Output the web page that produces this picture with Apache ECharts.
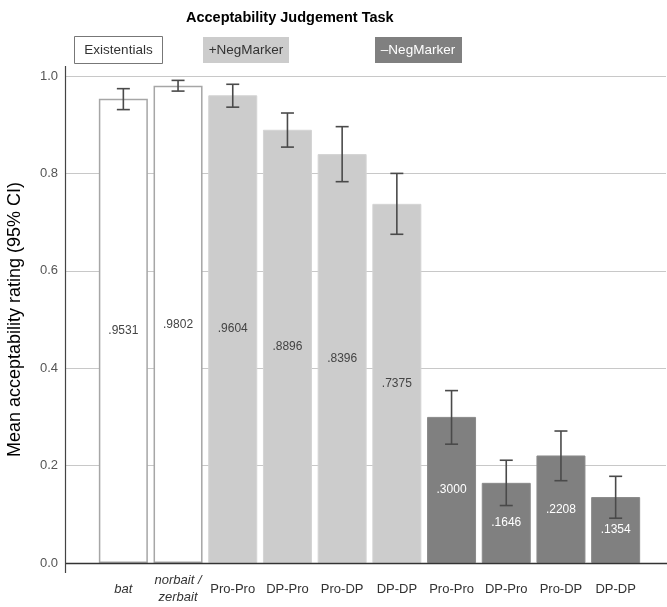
<!DOCTYPE html>
<html><head><meta charset="utf-8">
<script src="https://cdn.jsdelivr.net/npm/echarts@6/dist/echarts.min.js"></script>
<style>html,body{margin:0;padding:0;background:#fff}#c{width:667px;height:607px}</style>
</head><body><div id="c"></div>
<script>
const categories = ['bat', 'norbait /\nzerbait', 'Pro-Pro', 'DP-Pro', 'Pro-DP', 'DP-DP', 'Pro-Pro', 'DP-Pro', 'Pro-DP', 'DP-DP'];
const groups = ['Existentials', 'Existentials', '+NegMarker', '+NegMarker', '+NegMarker', '+NegMarker', '–NegMarker', '–NegMarker', '–NegMarker', '–NegMarker'];
const means = [0.9531, 0.9802, 0.9604, 0.8896, 0.8396, 0.7375, 0.3000, 0.1646, 0.2208, 0.1354];
const ciLow = [0.931, 0.969, 0.936, 0.854, 0.783, 0.675, 0.244, 0.118, 0.169, 0.092];
const ciHigh = [0.974, 0.991, 0.983, 0.924, 0.896, 0.800, 0.354, 0.211, 0.271, 0.178];
const yTicks = [0, 0.2, 0.4, 0.6, 0.8, 1.0];

const groupStyle = {
  'Existentials': {color: '#ffffff', border: '#a6a6a6', borderWidth: 1.5, label: '#444'},
  '+NegMarker': {color: '#cccccc', border: '#d4d4d4', borderWidth: 1, label: '#444'},
  '–NegMarker': {color: '#808080', border: '#8a8a8a', borderWidth: 1, label: '#fff'}
};

const barData = means.map((v, i) => {
  const s = groupStyle[groups[i]];
  return {
    value: v,
    itemStyle: {color: s.color, borderColor: s.border, borderWidth: s.borderWidth},
    label: {color: s.label}
  };
});
const errData = means.map((v, i) => [i, ciLow[i], ciHigh[i]]);

const chart = echarts.init(document.getElementById('c'));
const font = 'Liberation Sans, Arial, sans-serif';
chart.setOption({
  animation: false,
  textStyle: {fontFamily: font},
  title: {text: 'Acceptability Judgement Task', left: 181, top: 5,
    textStyle: {fontSize: 14.5, fontWeight: 'bold', color: '#000', fontFamily: font}},
  grid: [
    {left: 66, right: 1, top: 76, bottom: 44, outerBoundsMode: 'none'},
    {left: 96, right: 24, top: 76, bottom: 44, outerBoundsMode: 'none'}
  ],
  xAxis: [
    {type: 'value', gridIndex: 0, min: 0, max: 1, show: true,
      axisLine: {show: false}, axisTick: {show: false}, axisLabel: {show: false}, splitLine: {show: false}},
    {type: 'category', gridIndex: 1, data: categories,
      axisLine: {show: false}, axisTick: {show: false},
      axisLabel: {interval: 0, margin: 26, fontSize: 13, color: '#333', lineHeight: 17, verticalAlign: 'middle',
        formatter: (v, i) => (i < 2 ? '{it|' + v.split('\n').join('}\n{it|') + '}' : v),
        rich: {it: {fontStyle: 'italic', fontSize: 13, color: '#333', lineHeight: 17}}}}
  ],
  yAxis: [
    {type: 'value', gridIndex: 0, min: 0, max: 1, interval: 0.2,
      name: 'Mean acceptability rating (95% CI)', nameLocation: 'middle', nameGap: 42,
      nameTextStyle: {fontSize: 18, color: '#000'},
      axisLine: {show: false},
      axisTick: {show: false},
      axisLabel: {fontSize: 13, color: '#555', margin: 8, formatter: v => v.toFixed(1)},
      splitLine: {show: true, lineStyle: {color: '#c8c8c8', width: 1.2}}},
    {type: 'value', gridIndex: 1, min: 0, max: 1, interval: 0.2, show: false}
  ],
  graphic: [
    {type: 'group', left: 74, top: 36, children: [
      {type: 'rect', shape: {x: 0, y: 0, width: 88, height: 27}, style: {fill: '#fff', stroke: '#777', lineWidth: 1}},
      {type: 'text', style: {x: 44, y: 14, text: 'Existentials', fill: '#333', font: '13.5px ' + font, textAlign: 'center', textVerticalAlign: 'middle'}}
    ]},
    {type: 'group', left: 203, top: 37, children: [
      {type: 'rect', shape: {x: 0, y: 0, width: 86, height: 26}, style: {fill: '#cccccc'}},
      {type: 'text', style: {x: 43, y: 13, text: '+NegMarker', fill: '#333', font: '13.5px ' + font, textAlign: 'center', textVerticalAlign: 'middle'}}
    ]},
    {type: 'group', left: 375, top: 37, children: [
      {type: 'rect', shape: {x: 0, y: 0, width: 87, height: 26}, style: {fill: '#808080'}},
      {type: 'text', style: {x: 43, y: 13, text: '–NegMarker', fill: '#fff', font: '13.5px ' + font, textAlign: 'center', textVerticalAlign: 'middle'}}
    ]},
    {type: 'line', shape: {x1: 65.5, y1: 66, x2: 65.5, y2: 573}, style: {stroke: '#444', lineWidth: 1.2}, z: 10},
    {type: 'line', shape: {x1: 66, y1: 563.5, x2: 667, y2: 563.5}, style: {stroke: '#333', lineWidth: 1.5}, z: 10}
  ],
  series: [
    {type: 'bar', xAxisIndex: 1, yAxisIndex: 1, data: barData, barWidth: 49,
      label: {show: true, position: 'inside', fontSize: 12, formatter: p => p.value.toFixed(4).replace(/^0/, '')}},
    {type: 'custom', xAxisIndex: 1, yAxisIndex: 1, data: errData, z: 5,
      renderItem: (params, api) => {
        const x = api.value(0);
        const lo = api.coord([x, api.value(1)]);
        const hi = api.coord([x, api.value(2)]);
        const hw = 6.5;
        const st = {stroke: '#4a4a4a', lineWidth: 1.6};
        return {type: 'group', children: [
          {type: 'line', shape: {x1: lo[0], y1: lo[1], x2: hi[0], y2: hi[1]}, style: st},
          {type: 'line', shape: {x1: lo[0] - hw, y1: lo[1], x2: lo[0] + hw, y2: lo[1]}, style: st},
          {type: 'line', shape: {x1: hi[0] - hw, y1: hi[1], x2: hi[0] + hw, y2: hi[1]}, style: st}
        ]};
      }}
  ]
});
</script></body></html>
